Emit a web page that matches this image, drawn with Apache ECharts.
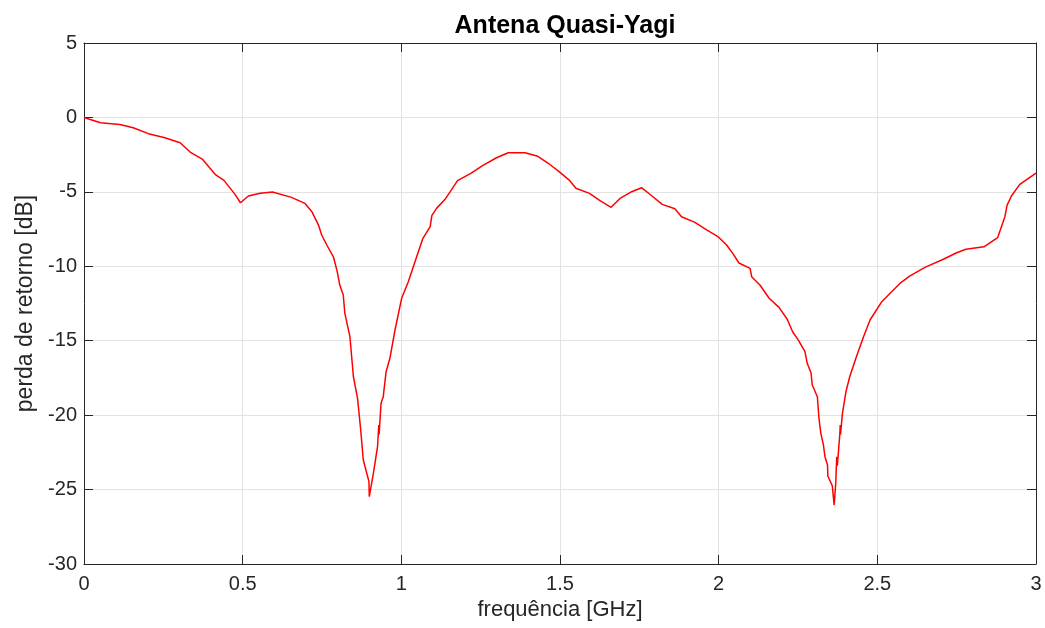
<!DOCTYPE html>
<html>
<head>
<meta charset="utf-8">
<script src="https://cdn.jsdelivr.net/npm/echarts@6/dist/echarts.min.js"></script>
<style>html,body{margin:0;padding:0;background:#fff}#c{width:1045px;height:628px}</style>
</head>
<body>
<div id="c"></div>
<script>
const freq = [0.000,0.052,0.113,0.155,0.203,0.255,0.303,0.337,0.374,0.413,0.441,0.476,0.493,0.518,0.555,0.594,0.654,0.696,0.718,0.739,0.749,0.765,0.786,0.798,0.806,0.817,0.822,0.838,0.849,0.862,0.872,0.880,0.891,0.898,0.899,0.912,0.925,0.929,0.930,0.936,0.943,0.952,0.964,0.980,1.001,1.022,1.043,1.068,1.091,1.096,1.111,1.137,1.159,1.177,1.219,1.256,1.300,1.337,1.390,1.430,1.463,1.500,1.529,1.550,1.593,1.626,1.661,1.689,1.726,1.757,1.789,1.822,1.862,1.883,1.925,1.962,1.999,2.025,2.046,2.064,2.099,2.104,2.130,2.159,2.190,2.216,2.233,2.251,2.272,2.279,2.291,2.295,2.311,2.316,2.322,2.330,2.335,2.343,2.344,2.358,2.364,2.369,2.372,2.374,2.382,2.383,2.384,2.390,2.401,2.413,2.434,2.456,2.477,2.514,2.545,2.571,2.603,2.650,2.708,2.750,2.779,2.836,2.879,2.902,2.909,2.923,2.949,3.000];
const loss = [0.00,-0.36,-0.47,-0.69,-1.09,-1.36,-1.70,-2.37,-2.82,-3.82,-4.23,-5.17,-5.73,-5.28,-5.10,-5.01,-5.37,-5.77,-6.33,-7.23,-7.90,-8.57,-9.36,-10.36,-11.26,-11.93,-13.16,-14.73,-17.42,-18.87,-21.00,-23.00,-23.90,-24.47,-25.48,-23.90,-22.12,-20.66,-21.30,-19.21,-18.76,-17.08,-16.18,-14.28,-12.15,-11.04,-9.69,-8.12,-7.34,-6.60,-6.11,-5.52,-4.83,-4.25,-3.76,-3.24,-2.71,-2.37,-2.37,-2.61,-3.08,-3.69,-4.21,-4.76,-5.10,-5.59,-6.04,-5.44,-4.99,-4.72,-5.26,-5.84,-6.13,-6.67,-7.05,-7.56,-8.03,-8.57,-9.18,-9.78,-10.14,-10.70,-11.26,-12.15,-12.76,-13.56,-14.40,-14.96,-15.74,-16.52,-17.15,-17.98,-18.76,-20.21,-21.22,-22.00,-22.79,-23.35,-24.09,-24.74,-26.04,-24.58,-22.79,-23.40,-21.22,-20.66,-21.30,-19.88,-18.43,-17.42,-16.08,-14.77,-13.61,-12.38,-11.71,-11.15,-10.65,-10.07,-9.53,-9.09,-8.86,-8.69,-8.08,-6.67,-5.89,-5.26,-4.50,-3.74];
const xTicks = [0,0.5,1,1.5,2,2.5,3];
const yTicks = [-30,-25,-20,-15,-10,-5,0,5];
const titleText = 'Antena Quasi-Yagi';
const xName = 'frequência [GHz]';
const yName = 'perda de retorno [dB]';

const font = 'Liberation Sans, Arial, Helvetica, sans-serif';
const axisColor = '#262626';
const pts = freq.map((f, i) => [f, loss[i]]);

const chart = echarts.init(document.getElementById('c'), null, {renderer: 'canvas'});
const fmt = v => String(v);
chart.setOption({
  animation: false,
  backgroundColor: '#fff',
  title: {
    text: titleText, left: 560, top: 9, textAlign: 'center',
    textStyle: {fontFamily: font, fontSize: 25, fontWeight: 'bold', color: '#000'}
  },
  grid: {left: 84, right: 9, top: 43, bottom: 64, containLabel: false},
  xAxis: [{
    type: 'value', min: xTicks[0], max: xTicks[xTicks.length-1], interval: 0.5,
    name: xName, nameLocation: 'middle', nameGap: 31,
    nameTextStyle: {fontFamily: font, fontSize: 22, color: axisColor},
    axisLine: {show: true, onZero: false, lineStyle: {color: axisColor, width: 1}},
    axisTick: {show: true, inside: true, length: 9, lineStyle: {color: axisColor}},
    axisLabel: {fontFamily: font, fontSize: 20, color: axisColor, margin: 10, formatter: fmt},
    splitLine: {show: true, lineStyle: {color: '#e3e3e3', width: 1}}
  }, {
    type: 'value', position: 'top', min: xTicks[0], max: xTicks[xTicks.length-1], interval: 0.5,
    axisLine: {show: true, onZero: false, lineStyle: {color: axisColor, width: 1}},
    axisTick: {show: true, inside: true, length: 9, lineStyle: {color: axisColor}},
    axisLabel: {show: false}, splitLine: {show: false}
  }],
  yAxis: [{
    type: 'value', min: yTicks[0], max: yTicks[yTicks.length-1], interval: 5,
    name: yName, nameLocation: 'middle', nameGap: 45, nameRotate: 90,
    nameTextStyle: {fontFamily: font, fontSize: 23, color: axisColor},
    axisLine: {show: true, onZero: false, lineStyle: {color: axisColor, width: 1}},
    axisTick: {show: true, inside: true, length: 9, lineStyle: {color: axisColor}},
    axisLabel: {fontFamily: font, fontSize: 20, color: axisColor, margin: 7, formatter: fmt},
    splitLine: {show: true, lineStyle: {color: '#e3e3e3', width: 1}}
  }, {
    type: 'value', position: 'right', min: yTicks[0], max: yTicks[yTicks.length-1], interval: 5,
    axisLine: {show: true, onZero: false, lineStyle: {color: axisColor, width: 1}},
    axisTick: {show: true, inside: true, length: 9, lineStyle: {color: axisColor}},
    axisLabel: {show: false}, splitLine: {show: false}
  }],
  series: [{
    type: 'line', data: pts, xAxisIndex: 0, yAxisIndex: 0,
    showSymbol: false, smooth: false,
    lineStyle: {color: '#ff0000', width: 1.5},
    z: 5
  }]
});
</script>
</body>
</html>
